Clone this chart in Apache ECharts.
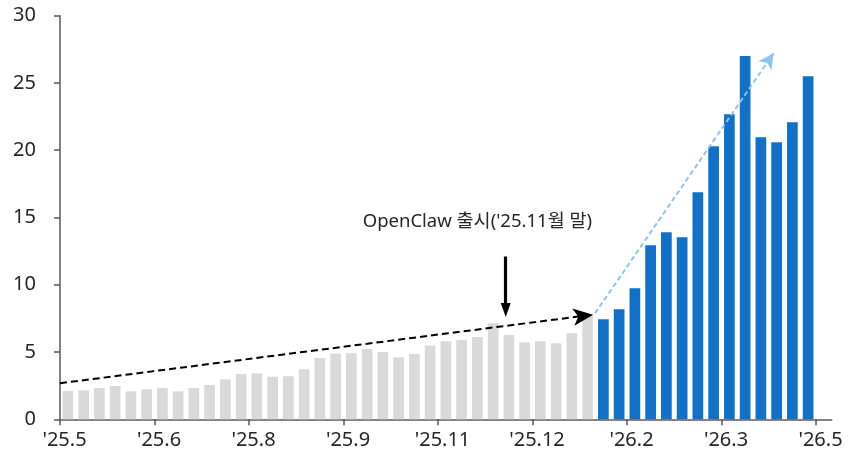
<!DOCTYPE html>
<html>
<head>
<meta charset="utf-8">
<title>OpenClaw 출시 전후 추이</title>
<script src="https://cdn.jsdelivr.net/npm/echarts@6/dist/echarts.min.js"></script>
<style>
  html, body { margin: 0; padding: 0; background: #ffffff; }
  #chart { width: 848px; height: 455px; }
</style>
</head>
<body>
<div id="chart"></div>
<script>
// Weekly values before the launch (grey) and after it (blue)
const beforeValues = [
  2.11, 2.16, 2.33, 2.48, 2.08, 2.23, 2.33, 2.08, 2.33, 2.55,
  2.97, 3.37, 3.42, 3.17, 3.20, 3.72, 4.56, 4.88, 4.91, 5.23,
  5.00, 4.61, 4.86, 5.48, 5.80, 5.90, 6.12, 7.14, 6.27, 5.72,
  5.80, 5.65, 6.39, 7.70
];
const afterValues = [
  7.43, 8.18, 9.74, 12.94, 13.90, 13.53, 16.88, 20.30, 22.68, 27.00,
  20.97, 20.60, 22.08, 25.50
];
// One month label every six weeks, placed on the week boundaries
const tickLabels = ["'25.5", "'25.6", "'25.8", "'25.9", "'25.11", "'25.12", "'26.2", "'26.3", "'26.5"];
const weeksPerTick = 6;
const totalSlots = 49;

const axisColor = '#595959';
const textColor = '#262626';
const fontFamily = "'Noto Sans', 'Noto Sans CJK KR', sans-serif";

const beforeData = beforeValues.map((v, i) => [i + 0.5, v]);
const afterData = afterValues.map((v, i) => [beforeValues.length + i + 0.5, v]);
const tickPositions = tickLabels.map((_, i) => i * weeksPerTick);

// Trend arrows and launch marker, in data coordinates
const trendBefore = [[0, 2.68], [33.85, 7.78]];
const trendAfter = [[33.97, 7.88], [45.3, 27.2]];
const launchArrow = [[28.3, 12.1], [28.3, 8.13]];
const launchNote = { coord: [26.5, 14.7], text: "OpenClaw 출시('25.11월 말)" };

const chart = echarts.init(document.getElementById('chart'), null, { renderer: 'canvas' });

chart.setOption({
  animation: false,
  backgroundColor: '#ffffff',
  grid: { left: 60, right: 16.25, top: 15.7, bottom: 35.7, containLabel: false },
  xAxis: {
    type: 'value',
    min: 0,
    max: totalSlots,
    splitLine: { show: false },
    axisLine: { show: true, lineStyle: { color: axisColor, width: 1.5 } },
    axisTick: { show: true, length: 6, customValues: tickPositions, lineStyle: { color: axisColor, width: 1.5 } },
    axisLabel: {
      customValues: tickPositions,
      formatter: (v) => tickLabels[Math.round(v / weeksPerTick)] ?? '',
      color: textColor,
      fontFamily: fontFamily,
      fontSize: 20,
      margin: 11,
      padding: [0, 0, 0, 9]
    }
  },
  yAxis: {
    type: 'value',
    min: 0,
    max: 30,
    interval: 5,
    splitLine: { show: false },
    axisLine: { show: true, lineStyle: { color: axisColor, width: 1.5 } },
    axisTick: { show: true, length: 6, lineStyle: { color: axisColor, width: 1.5 } },
    axisLabel: { color: textColor, fontFamily: fontFamily, fontSize: 20, margin: 24 }
  },
  series: [
    {
      name: 'before',
      type: 'bar',
      stack: 'weeks',
      barWidth: 10.7,
      data: beforeData,
      itemStyle: { color: '#D9D9D9' },
      silent: true,
      markLine: {
        silent: true,
        animation: false,
        label: { show: false },
        emphasis: { disabled: true },
        data: [
          [
            { coord: trendBefore[0], symbol: 'none', lineStyle: { color: '#000000', width: 2, type: [7, 4] } },
            { coord: trendBefore[1], symbol: 'arrow', symbolSize: [13, 20] }
          ],
          [
            { coord: launchArrow[0], symbol: 'none', lineStyle: { color: '#000000', width: 3.2, type: 'solid' } },
            { coord: launchArrow[1], symbol: 'triangle', symbolSize: [10, 14] }
          ]
        ]
      },
      markPoint: {
        silent: true,
        data: [{
          coord: launchNote.coord,
          symbol: 'circle',
          symbolSize: 1,
          itemStyle: { color: 'rgba(0,0,0,0)' },
          label: {
            show: true,
            position: 'inside',
            formatter: launchNote.text,
            color: textColor,
            fontFamily: fontFamily,
            fontSize: 18.5
          }
        }]
      }
    },
    {
      name: 'after',
      type: 'bar',
      stack: 'weeks',
      barWidth: 10.7,
      data: afterData,
      itemStyle: { color: '#1170C8' },
      silent: true,
      markLine: {
        silent: true,
        animation: false,
        label: { show: false },
        emphasis: { disabled: true },
        data: [
          [
            { coord: trendAfter[0], symbol: 'none', lineStyle: { color: '#8EC4F4', width: 2, type: [5, 3] } },
            { coord: trendAfter[1], symbol: 'arrow', symbolSize: [12, 15] }
          ]
        ]
      }
    }
  ]
});
</script>
</body>
</html>
